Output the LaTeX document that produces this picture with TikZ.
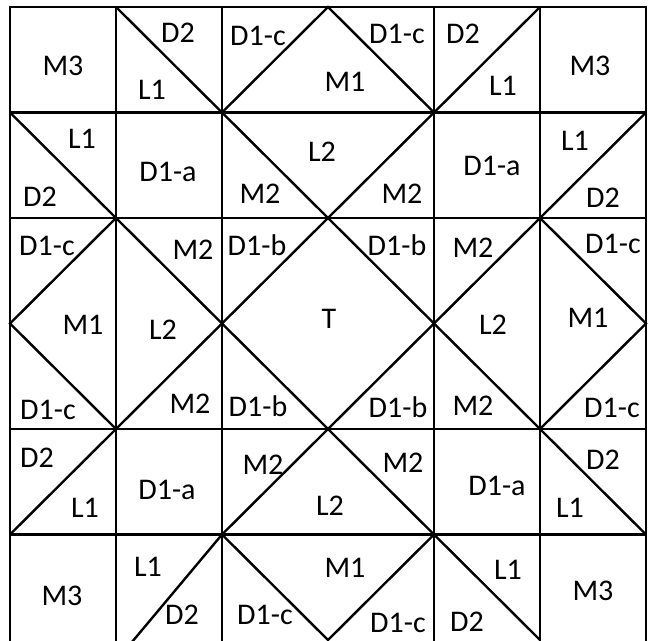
\documentclass[tikz,border=0pt]{standalone}
\usepackage{fontspec}
\setmainfont{Carlito}
\begin{document}
\begin{tikzpicture}[x=1pt,y=-1pt,
  gridline/.style={line width=2.6pt,line cap=rect},
  diag/.style={line width=2.4pt},
  lbl/.style={inner sep=0pt,font=\fontsize{30}{34}\selectfont}]
\useasboundingbox (0,0) rectangle (653,640);
\begin{scope}[shift={(10pt,-7pt)},x=106pt,y=-105.5pt]
  % grid (the middle lines are absent)
  \foreach \i in {0,1,2,4,5,6} \draw[gridline] (\i,0) -- (\i,6.2);
  \foreach \j in {0,1,2,4,5} \draw[gridline] (0,\j) -- (6,\j);
  % diagonals
  \draw[diag] (1,0) -- (2,1) -- (3,0) -- (4,1) -- (5,0);
  \draw[diag] (0,1) -- (1,2) -- (2,3) -- (3,2) -- (2,1);
  \draw[diag] (3,2) -- (4,1);
  \draw[diag] (6,1) -- (5,2) -- (4,3) -- (3,2);
  \draw[diag] (1,2) -- (0,3) -- (1,4) -- (2,3) -- (3,4) -- (4,3) -- (5,4) -- (6,3) -- (5,2);
  \draw[diag] (0,5) -- (1,4);
  \draw[diag] (2,5) -- (3,4) -- (4,5);
  \draw[diag] (5,4) -- (6,5);
  \draw[diag] (1,6.2) -- (2,5) -- (3,6) -- (4,5) -- (5,6);
\end{scope}
% row 0
\node[lbl] (r0m3a) at (63,66) {M3};
\node[lbl] (r0d2a) at (178,33) {D2};
\node[lbl] (r0l1a) at (152,90) {L1};
\node[lbl] (r0d1ca) at (258,36) {D1-c};
\node[lbl] (r0m1) at (345,82) {M1};
\node[lbl] (r0d1cb) at (397,34) {D1-c};
\node[lbl] (r0d2b) at (463,34) {D2};
\node[lbl] (r0l1b) at (503,86) {L1};
\node[lbl] (r0m3b) at (590,66) {M3};
% row 1
\node[lbl] (r1l1a) at (82,139) {L1};
\node[lbl] (r1d2a) at (40,197) {D2};
\node[lbl] (r1d1aa) at (168,172) {D1-a};
\node[lbl] (r1m2a) at (260,194) {M2};
\node[lbl] (r1l2) at (322,152) {L2};
\node[lbl] (r1m2b) at (402,194) {M2};
\node[lbl] (r1d1ab) at (492,166) {D1-a};
\node[lbl] (r1l1b) at (575,141) {L1};
\node[lbl] (r1d2b) at (603,198) {D2};
% rows 2-3
\node[lbl] (r2d1ca) at (47,246) {D1-c};
\node[lbl] (r2m2a) at (193,250) {M2};
\node[lbl] (r2d1ba) at (257,245) {D1-b};
\node[lbl] (r2d1bb) at (397,245) {D1-b};
\node[lbl] (r2m2b) at (473,248) {M2};
\node[lbl] (r2d1cb) at (613,244) {D1-c};
\node[lbl] (r2m1a) at (83,325) {M1};
\node[lbl] (r2l2a) at (163,330) {L2};
\node[lbl] (t) at (329,319) {T};
\node[lbl] (r2l2b) at (493,325) {L2};
\node[lbl] (r2m1b) at (588,318) {M1};
\node[lbl] (r3d1ca) at (48,410) {D1-c};
\node[lbl] (r3m2a) at (190,404) {M2};
\node[lbl] (r3d1ba) at (258,406) {D1-b};
\node[lbl] (r3d1bb) at (398,407) {D1-b};
\node[lbl] (r3m2b) at (473,406) {M2};
\node[lbl] (r3d1cb) at (612,408) {D1-c};
% row 4
\node[lbl] (r4d2a) at (37,458) {D2};
\node[lbl] (r4l1a) at (85,508) {L1};
\node[lbl] (r4d1aa) at (167,490) {D1-a};
\node[lbl] (r4m2a) at (263,465) {M2};
\node[lbl] (r4l2) at (330,506) {L2};
\node[lbl] (r4m2b) at (403,463) {M2};
\node[lbl] (r4d1ab) at (497,486) {D1-a};
\node[lbl] (r4d2b) at (603,460) {D2};
\node[lbl] (r4l1b) at (570,508) {L1};
% row 5
\node[lbl] (r5m3a) at (62,596) {M3};
\node[lbl] (r5l1a) at (148,567) {L1};
\node[lbl] (r5d2a) at (182,615) {D2};
\node[lbl] (r5d1ca) at (265,615) {D1-c};
\node[lbl] (r5m1) at (345,568) {M1};
\node[lbl] (r5d1cb) at (398,623) {D1-c};
\node[lbl] (r5d2b) at (467,622) {D2};
\node[lbl] (r5l1b) at (508,570) {L1};
\node[lbl] (r5m3b) at (593,591) {M3};
\end{tikzpicture}
\end{document}
